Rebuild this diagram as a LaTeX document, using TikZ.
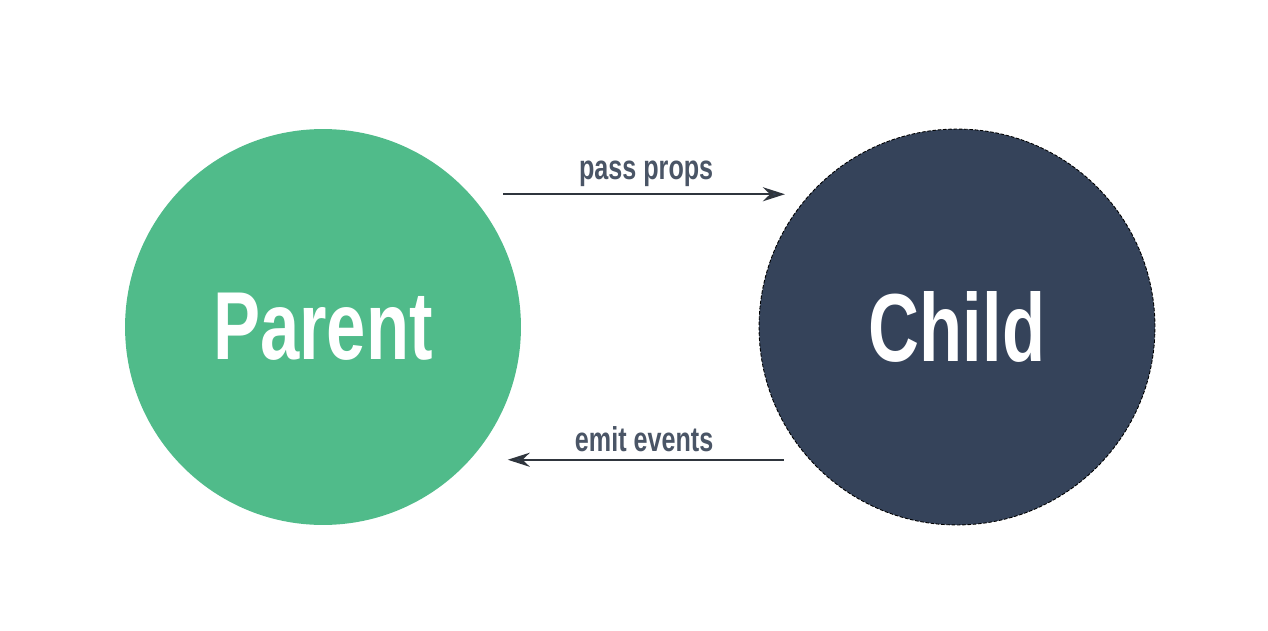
\documentclass[tikz,border=0pt]{standalone}
\usepackage{fontspec}
\usepackage{tikz}
\usetikzlibrary{
	arrows.meta,
	positioning
}
\newfontfamily\condfont[FakeStretch=0.73]{Liberation Sans}
\definecolor{vuegreen}{HTML}{50BB8A}
\definecolor{vuedark}{HTML}{35435A}
\definecolor{labelgray}{HTML}{4A5566}
\definecolor{arrowgray}{HTML}{2F353D}
\tikzset{every path/.append style={line width=0.5pt}}
\tikzset{
	bubble/.style={circle,minimum size=7.92cm,inner sep=0pt,text=white,font=\condfont\bfseries\fontsize{55}{60}\selectfont},
	flow/.style={draw=arrowgray,line width=1.4pt,-{Stealth[length=4.4mm,width=2.8mm,fill=vuedark]}},
	flowlabel/.style={text=labelgray,font=\condfont\bfseries\fontsize{19.6}{22}\selectfont,inner sep=2pt}
}

\begin{document}
\begin{tikzpicture}[x=0.02cm,y=0.02cm]
	\useasboundingbox (0,0) rectangle (1268,630);
	
	\node (parent) at (323,303) [bubble,fill=vuegreen]{Parent};
	\node (child) at (957,303) [bubble,fill=vuedark,draw=black,dash pattern=on 2pt off 1pt,line width=0.5pt]{Child};
	
	\draw[flow,shorten <=0.66cm,shorten >=0.54cm] (parent.42.5) -- (child.137.5 |- parent.42.5)
		node[midway,above=0.06cm,xshift=0.1cm,flowlabel]{pass props};
	\draw[flow,shorten <=0.52cm,shorten >=0.70cm] (child.-138.5) -- (parent.-41.5 |- child.-138.5)
		node[midway,above=0.06cm,xshift=0.06cm,flowlabel]{emit events};
\end{tikzpicture}
\end{document}
